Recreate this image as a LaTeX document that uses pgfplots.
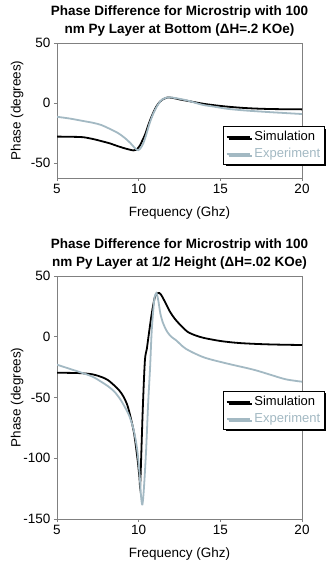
\documentclass[border=0pt]{standalone}
\usepackage{fontspec}
\setmainfont{Liberation Sans}
\usepackage{pgfplots}
\pgfplotsset{compat=1.18}
\usetikzlibrary{shadows}

\definecolor{expc}{HTML}{A3B9C3}
\definecolor{axc}{HTML}{808080}

\pgfplotsset{
  phase/.style={
    scale only axis,
    width=245pt,
    anchor=south west,
    xmin=5, xmax=20,
    xtick={5,10,15,20},
    axis line style={axc, line width=0.8pt},
    tick align=outside,
    major tick length=3pt,
    tick style={axc, line width=0.8pt},
    xtick pos=lower, ytick pos=left,
    /pgf/number format/assume math mode=true,
    ticklabel style={font=\fontsize{13.5}{16}\selectfont},
    label style={font=\fontsize{13.5}{16}\selectfont},
    xlabel={Frequency (Ghz)},
    ylabel={Phase (degrees)},
    xlabel style={at={(axis description cs:0.5,0)}, anchor=center, yshift=-35pt},
    ylabel style={at={(axis description cs:-0.163,0.5)}, anchor=center},
    title style={at={(axis description cs:0.5,1)}, anchor=center, yshift=16pt,
                 font=\fontsize{13.5}{18.5}\selectfont\bfseries, align=center},
    legend style={draw=black, line width=1pt, fill=white,
                  drop shadow={shadow xshift=2pt, shadow yshift=-2pt, fill=black, opacity=1},
                  font=\fontsize{13}{15}\selectfont, anchor=north west,
                  inner xsep=2pt, inner ysep=3pt, row sep=2pt,
                  cells={anchor=west}},
    legend image code/.code={\draw[#1] (0pt,0pt) -- (23pt,0pt); \path (25pt,0pt);},
    sim/.style={black, line width=1.8pt, smooth},
    exp/.style={expc, line width=1.8pt, smooth},
  }
}

\begin{document}
\begin{tikzpicture}
\useasboundingbox (0,0) rectangle (331pt,564pt);

% top: Py layer at bottom
\begin{axis}[phase,
  at={(57pt,386pt)},
  height=135pt,
  ymin=-62.5, ymax=50,
  ytick={-50,0,50},
  title={Phase Difference for Microstrip with 100\\nm Py Layer at Bottom (ΔH=.2 KOe)},
  legend style={at={(axis description cs:0.678,0.385)}},
]
\addplot[sim] coordinates {
  (5,-28) (6,-28.2) (6.6,-28.5) (7.2,-30) (7.7,-31.7) (8.2,-33.5) (8.73,-36)
  (9.2,-38) (9.67,-39.5) (9.85,-39) (10.05,-36) (10.2,-32) (10.4,-26)
  (10.6,-18) (10.8,-11) (11.0,-5) (11.2,-0.5) (11.45,2.8) (11.75,4.5)
  (12.1,4.2) (12.5,3) (13.1,1.5) (13.9,-0.5) (14.6,-1.8) (15.4,-3)
  (16.3,-4) (17.1,-4.6) (18,-5) (19,-5.2) (20,-5.3)
};
\addlegendentry{Simulation}
\addplot[exp] coordinates {
  (5,-11.5) (5.8,-13) (6.6,-15) (7.2,-16.5) (7.7,-18.3) (8.3,-22) (8.73,-25)
  (9.14,-29) (9.5,-33.5) (9.8,-38) (9.98,-39.3) (10.15,-37) (10.3,-33)
  (10.45,-27) (10.6,-20) (10.8,-12) (11.0,-5.8) (11.2,-1) (11.4,2.5)
  (11.65,4.3) (11.9,4.7) (12.3,4) (13,2) (13.9,-1.5) (14.6,-3) (15.4,-4.8)
  (16.3,-6) (17.1,-6.8) (18,-7.6) (19,-8.4) (20,-9.2)
};
\addlegendentry{\textcolor{expc}{Experiment}}
\end{axis}

% bottom: Py layer at 1/2 height
\begin{axis}[phase,
  at={(57pt,45pt)},
  height=243pt,
  ymin=-150, ymax=50,
  ytick={-150,-100,-50,0,50},
  title={Phase Difference for Microstrip with 100\\nm Py Layer at 1/2 Height (ΔH=.02 KOe)},
  legend style={at={(axis description cs:0.678,0.527)}},
]
\addplot[sim] coordinates {
  (5,-29.6) (6,-29.8) (6.6,-30.1) (7.2,-31) (7.7,-33) (8.1,-35.5) (8.5,-40)
  (8.8,-44) (9.06,-49) (9.3,-56) (9.5,-66) (9.7,-78) (9.83,-90) (9.95,-103)
  (10.05,-116) (10.1,-120) (10.25,-60) (10.38,-20) (10.5,-10) (10.6,0)
  (10.8,19) (11.0,33) (11.2,36) (11.35,35) (11.6,29) (11.9,21) (12.2,15)
  (12.6,9) (13,4) (13.5,1) (14,-1) (15,-3.5) (16,-5) (17,-5.8) (18,-6.3)
  (19,-6.6) (20,-6.8)
};
\addlegendentry{Simulation}
\addplot[exp] coordinates {
  (5,-23) (5.8,-26.5) (6.6,-30) (7.2,-33) (7.7,-37) (8.1,-40.5) (8.5,-45)
  (8.85,-51) (9.16,-58) (9.45,-66) (9.7,-77) (9.9,-92) (10.05,-112)
  (10.15,-132) (10.23,-138) (10.32,-125) (10.45,-95) (10.58,-55) (10.7,-25)
  (10.8,5) (10.95,30) (11.08,36) (11.2,30) (11.33,19) (11.5,11) (11.75,4)
  (12,0) (12.3,-3) (12.9,-10) (14,-17) (15.4,-22) (17,-27) (18,-31)
  (19,-35) (20,-37)
};
\addlegendentry{\textcolor{expc}{Experiment}}
\end{axis}
\end{tikzpicture}
\end{document}
